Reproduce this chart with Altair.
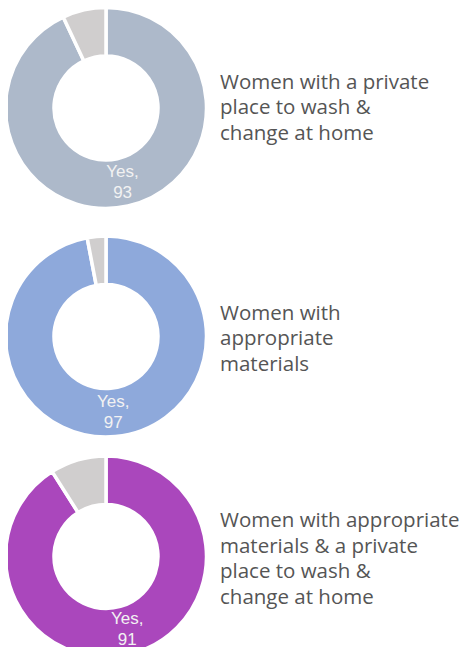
import altair as alt
import pandas as pd

categories = [
    "Women with a private place to wash & change at home",
    "Women with appropriate materials",
    "Women with appropriate materials & a private place to wash & change at home",
]
label_lines = [
    ["Women with a private", "place to wash &", "change at home"],
    ["Women with", "appropriate", "materials"],
    ["Women with appropriate", "materials & a private", "place to wash &", "change at home"],
]
answers = ["Yes", "No"]
yes_values = [93, 97, 91]
no_values = [7, 3, 9]

colors = ["#ADB9CA", "#8EA9DB", "#AA47BC"]
grey = "#D0CECE"
cx = 98
centers_y = [100, 328.5, 548.5]
title_first_y = [74.5, 305.5, 513]

layers = []
for i, cat in enumerate(categories):
    df = pd.DataFrame({
        "category": [cat, cat],
        "answer": answers,
        "value": [yes_values[i], no_values[i]],
        "order": [0, 1],
        "label": ["Yes,\n" + str(yes_values[i]), ""],
    })
    base = alt.Chart(df).encode(
        theta=alt.Theta("value:Q", stack=True),
        order=alt.Order("order:Q"),
        x=alt.value(cx),
        y=alt.value(centers_y[i]),
    )
    arc = base.mark_arc(outerRadius=100.5, innerRadius=52, stroke="white", strokeWidth=3.5).encode(
        color=alt.when(alt.datum.answer == "Yes").then(alt.value(colors[i])).otherwise(alt.value(grey))
    )
    txt = base.mark_text(
        radius=76, dy=-10.5, lineBreak="\n", lineHeight=21, fontSize=17,
        font="Liberation Sans", color="#F2F2F2", align="center", baseline="middle",
    ).encode(text="label:N")
    tdf = pd.DataFrame({"t": ["\n".join(label_lines[i])]})
    title = alt.Chart(tdf).mark_text(
        align="left", baseline="middle", lineBreak="\n", lineHeight=25.5,
        fontSize=20.5, font="Open Sans", color="#555555",
    ).encode(x=alt.value(212), y=alt.value(title_first_y[i]), text="t:N")
    layers += [arc, txt, title]

chart = alt.layer(*layers).properties(
    width=455, height=639, padding=0,
    autosize=alt.AutoSizeParams(type="none"),
).configure_view(strokeWidth=0)
chart.save("out.html", embed_options={"renderer": "svg", "actions": False})
